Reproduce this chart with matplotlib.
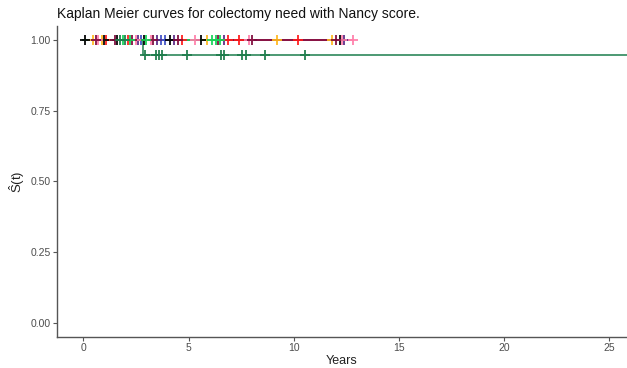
import numpy as np
import matplotlib
matplotlib.use("Agg")
import matplotlib.pyplot as plt

plt.rcParams["font.family"] = ["Liberation Sans", "DejaVu Sans"]
plt.rcParams["mathtext.fontset"] = "custom"
plt.rcParams["mathtext.rm"] = "Liberation Sans"
plt.rcParams["mathtext.it"] = "Liberation Sans"

title = "Kaplan Meier curves for colectomy need with Nancy score."
x_label = "Years"
y_label = r"$\hat{\mathrm{S}}\mathrm{(t)}$"
x_ticks = [0, 5, 10, 15, 20, 25]
y_ticks = [0.00, 0.25, 0.50, 0.75, 1.00]

# Survival step functions per stratum: step times, survival after each step, curve end
colors = ["#3F51C4", "#5B2A86", "#FF1A1A", "#FFB91E", "#000000",
          "#FF7FAA", "#7E0A3C", "#18D45A", "#1E7D4C"]
step_times = [[], [], [], [], [], [], [], [], [2.84]]
step_surv = [[], [], [], [], [], [], [], [], [0.946]]
end_times = [3.9, 12.4, 10.2, 11.9, 12.2, 12.8, 12.15, 6.5, 27.0]

# Censoring times per stratum
censor_times = [
    [2.75, 3.7, 3.9],
    [2.6, 3.5, 4.3, 6.7, 12.4],
    [1.1, 2.1, 4.7, 6.9, 7.4, 10.2],
    [0.45, 0.9, 5.9, 9.2, 11.8],
    [0.1, 1.0, 1.6, 2.9, 4.1, 5.6, 12.2],
    [0.7, 2.5, 3.2, 5.3, 7.9, 12.3, 12.8],
    [0.6, 1.5, 2.3, 3.3, 4.5, 6.4, 8.0, 12.0],
    [1.9, 2.2, 3.0, 6.1, 6.3, 6.5],
    [1.75, 2.0, 2.94, 3.46, 3.60, 3.74, 4.93, 6.54, 6.68, 7.54, 7.72, 8.63, 10.52],
]


def surv_at(t, times, surv):
    s = 1.0
    for tt, ss in zip(times, surv):
        if t >= tt:
            s = ss
    return s


fig = plt.figure(figsize=(6.27, 3.68), dpi=100)
ax = fig.add_axes([0.091, 0.084, 0.909, 0.846])

for col, st, ss, end, cens in zip(colors, step_times, step_surv, end_times, censor_times):
    xs = [0.0] + list(st) + [end]
    ys = [1.0] + list(ss) + [ss[-1] if ss else 1.0]
    lc = "#3E9168" if col == "#1E7D4C" else col
    ax.step(xs, ys, where="post", color=lc, lw=1.3, zorder=2)
    cy = [surv_at(c, st, ss) for c in cens]
    ax.plot(cens, cy, ls="none", marker="+", ms=6.5, mew=1.4, color=col,
            alpha=0.9, zorder=3)

ax.set_xlim(-1.25, 25.85)
ax.set_ylim(-0.05, 1.05)
ax.set_xticks(x_ticks)
ax.set_xticklabels([str(v) for v in x_ticks])
ax.set_yticks(y_ticks)
ax.set_yticklabels([f"{v:.2f}" for v in y_ticks])

for side in ("top", "right"):
    ax.spines[side].set_visible(False)
for side in ("left", "bottom"):
    ax.spines[side].set_color("#555555")
    ax.spines[side].set_linewidth(1.0)
ax.tick_params(axis="both", colors="#555555", length=3, width=0.8, pad=1.5,
               labelsize=7.5, labelcolor="#4D4D4D")

ax.set_xlabel(x_label, fontsize=9, color="#222222", labelpad=1)
ax.set_ylabel(y_label, fontsize=9.5, color="#222222")
ax.yaxis.set_label_coords(-0.052, 0.5)
fig.text(0.091, 0.963, title, fontsize=10, color="#111111", ha="left", va="center")

fig.savefig("out.png", dpi=100)
